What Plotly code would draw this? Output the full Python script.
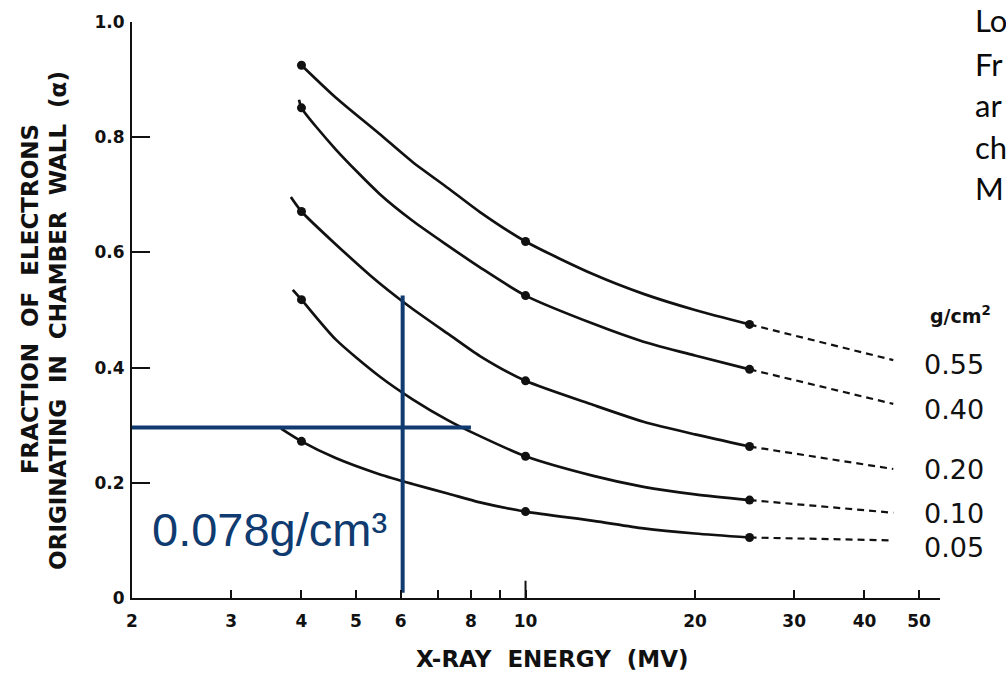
import math
import plotly.graph_objects as go

# ---------------- data ----------------
energy_tickvals = [2, 3, 4, 5, 6, 8, 10, 20, 30, 40, 50]
energy_ticktext = ["2", "3", "4", "5", "6", "8", "10", "20", "30", "40", "50"]
energy_minor_ticks = [7, 9]
alpha_tickvals = [0, 0.2, 0.4, 0.6, 0.8, 1.0]
alpha_ticktext = ["0", "0.2", "0.4", "0.6", "0.8", "1.0"]

thickness_labels = ["0.55", "0.40", "0.20", "0.10", "0.05"]

# solid part of each curve (MV, alpha)
x_055 = [4, 4.6, 5.5, 6.3, 7.3, 8.3, 10, 13.2, 16.2, 20, 25]
y_055 = [0.925, 0.869, 0.806, 0.757, 0.711, 0.670, 0.619, 0.562, 0.528, 0.500, 0.475]

x_040 = [3.96, 4, 4.6, 5.5, 6.3, 7.3, 8.3, 10, 13.2, 16.2, 20, 25]
y_040 = [0.865, 0.851, 0.779, 0.702, 0.655, 0.611, 0.574, 0.525, 0.476, 0.445, 0.421, 0.397]

x_020 = [3.83, 4, 5.3, 6.2, 7.3, 8.3, 10, 13.2, 16.2, 20, 25]
y_020 = [0.696, 0.671, 0.560, 0.507, 0.458, 0.420, 0.377, 0.335, 0.306, 0.284, 0.263]

x_010 = [3.86, 4, 4.6, 5.5, 6.3, 7.3, 8.3, 10, 13.2, 16.2, 20, 25]
y_010 = [0.535, 0.518, 0.449, 0.385, 0.345, 0.308, 0.281, 0.246, 0.212, 0.193, 0.180, 0.170]

x_005 = [3.68, 4, 4.6, 5.5, 6.3, 7.3, 8.3, 10, 13.2, 16.2, 20, 25]
y_005 = [0.294, 0.272, 0.243, 0.215, 0.198, 0.181, 0.166, 0.150, 0.134, 0.121, 0.112, 0.105]

# dashed extrapolation 25 -> 45 MV
dash_x = [25, 45]
dash_end = [0.413, 0.337, 0.224, 0.148, 0.100]

# measured points (dots)
dot_energies = [4, 10, 25]

# blue crosshair annotation on the slide
cross_h_x = [2, 8]
cross_h_y = 0.296
cross_v_x = 6.05
cross_v_y = [0.009, 0.525]
cross_text = "0.078g/cm³"

# clipped slide text at top right
slide_words = ["Lo", "Fr", "ar", "ch", "M"]

curves = [(x_055, y_055), (x_040, y_040), (x_020, y_020), (x_010, y_010), (x_005, y_005)]

# ---------------- figure ----------------
BLACK = "#111111"
BLUE = "#0F3B70"
fig = go.Figure()

for (xs, ys), yend in zip(curves, dash_end):
    fig.add_trace(go.Scatter(x=xs, y=ys, mode="lines",
                             line=dict(color=BLACK, width=2.7, shape="spline", smoothing=0.7),
                             hoverinfo="skip"))
    fig.add_trace(go.Scatter(x=dash_x, y=[ys[-1], yend], mode="lines",
                             line=dict(color=BLACK, width=2.2, dash="7px,5px"),
                             hoverinfo="skip"))
    dy = [ys[xs.index(e)] for e in dot_energies]
    fig.add_trace(go.Scatter(x=dot_energies, y=dy, mode="markers",
                             marker=dict(color=BLACK, size=9, symbol="circle"),
                             hoverinfo="skip"))

# longer tick mark at 10 MV
fig.add_trace(go.Scatter(x=[10, 10], y=[0, 0.03], mode="lines",
                         line=dict(color=BLACK, width=2), hoverinfo="skip"))

# blue crosshair
fig.add_trace(go.Scatter(x=cross_h_x, y=[cross_h_y, cross_h_y], mode="lines",
                         line=dict(color=BLUE, width=4), hoverinfo="skip"))
fig.add_trace(go.Scatter(x=[cross_v_x, cross_v_x], y=cross_v_y, mode="lines",
                         line=dict(color=BLUE, width=4), hoverinfo="skip"))

W, H = 1006, 675
L, R, T, B = 132, 66, 16, 77
pw = W - L - R
ph = H - T - B
px_per_decade = 563.0
x_lo = math.log10(2)
x_hi = x_lo + pw / px_per_decade

tickfont = dict(family="DejaVu Sans", size=17, color=BLACK, weight="bold")

fig.update_layout(
    width=W, height=H,
    margin=dict(l=L, r=R, t=T, b=B, pad=0),
    paper_bgcolor="white", plot_bgcolor="white",
    showlegend=False,
    xaxis=dict(type="log", range=[x_lo, x_hi],
               tickvals=energy_tickvals, ticktext=energy_ticktext,
               ticks="inside", ticklen=8, tickwidth=2, tickcolor=BLACK,
               minor=dict(tickvals=energy_minor_ticks, ticks="inside", ticklen=8,
                          tickwidth=2, tickcolor=BLACK, showgrid=False),
               showline=True, linecolor=BLACK, linewidth=2,
               showgrid=False, zeroline=False, tickfont=tickfont,
               ticklabelstandoff=7),
    yaxis=dict(range=[0, 1.0],
               tickvals=alpha_tickvals, ticktext=alpha_ticktext,
               ticks="inside", ticklen=18, tickwidth=2, tickcolor=BLACK,
               showline=True, linecolor=BLACK, linewidth=2,
               showgrid=False, zeroline=False, tickfont=tickfont,
               ticklabelstandoff=2),
)


def px_x(px):
    return (px - L) / pw


def px_y(py):
    return (H - B - py) / ph


ann = []
title_font = dict(family="DejaVu Sans", size=23, color=BLACK, weight="bold")
ann.append(dict(text="X-RAY  ENERGY  (MV)", x=px_x(552), y=px_y(660), xref="paper", yref="paper",
                showarrow=False, font=title_font, xanchor="center", yanchor="middle"))
ann.append(dict(text="FRACTION  OF  ELECTRONS", x=px_x(30), y=px_y(296), xref="paper", yref="paper",
                showarrow=False, textangle=-90, font=title_font,
                xanchor="center", yanchor="middle"))
ann.append(dict(text="ORIGINATING  IN  CHAMBER  WALL  (α)", x=px_x(58), y=px_y(318), xref="paper", yref="paper",
                showarrow=False, textangle=-90, font=title_font,
                xanchor="center", yanchor="middle"))
label_py = [362, 408, 468, 513, 547]
for lab, py in zip(thickness_labels, label_py):
    ann.append(dict(text=lab, x=px_x(954), y=px_y(py), xref="paper", yref="paper",
                    showarrow=False, font=dict(family="DejaVu Sans", size=27, color=BLACK),
                    xanchor="center", yanchor="middle"))
ann.append(dict(text="g/cm<sup>2</sup>", x=px_x(960), y=px_y(312), xref="paper", yref="paper",
                showarrow=False, font=dict(family="DejaVu Sans", size=19, color=BLACK, weight="bold"),
                xanchor="center", yanchor="middle"))
ann.append(dict(text=cross_text, x=px_x(269), y=px_y(529), xref="paper", yref="paper",
                showarrow=False, font=dict(family="Liberation Sans", size=47, color=BLUE),
                xanchor="center", yanchor="middle"))
slide_py = [14, 58, 100, 142, 184]
for w, py in zip(slide_words, slide_py):
    ann.append(dict(text=w, x=px_x(973), y=px_y(py), xref="paper", yref="paper",
                    showarrow=False, font=dict(family="Lato", size=31, color="#0a0a0a"),
                    xanchor="left", yanchor="middle"))

fig.update_layout(annotations=ann)

fig.write_html("out.html", config={"displayModeBar": False},
               post_script="document.body.style.margin='0';")
